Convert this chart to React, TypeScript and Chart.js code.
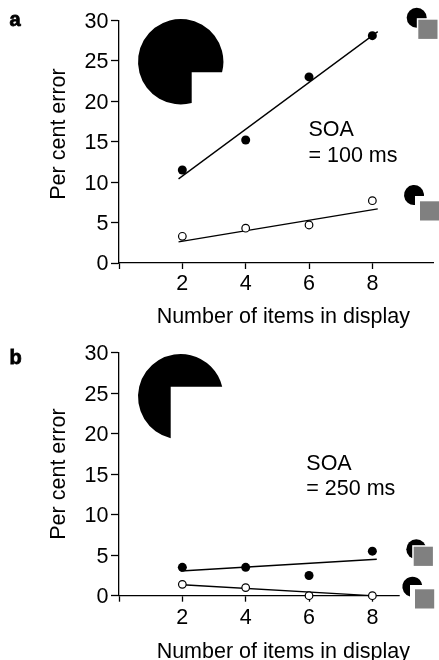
import React, { useEffect, useRef } from "react";
import { Chart, registerables } from "chart.js";

Chart.register(...registerables);

const FONT = '"Liberation Sans", Arial, sans-serif';
const FONT_SIZE = 21.5;

const itemCounts = [2, 4, 6, 8];
const yTicks = [0, 5, 10, 15, 20, 25, 30];
const xTicks = [0, 2, 4, 6, 8];

const aFilled = [11.5, 15.2, 23.0, 28.1];
const aOpen = [3.3, 4.3, 4.7, 7.7];
const aFilledFitX = [1.88, 8.17];
const aFilledFitY = [10.4, 28.6];
const aOpenFitX = [1.88, 8.17];
const aOpenFitY = [2.6, 6.7];

const bFilled = [3.5, 3.5, 2.5, 5.5];
const bOpen = [1.4, 1.0, 0, 0];
const bFilledFitX = [1.95, 8.14];
const bFilledFitY = [3.05, 4.5];
const bOpenFitX = [2, 7.96];
const bOpenFitY = [1.35, 0];

const xTitle = "Number of items in display";
const yTitle = "Per cent error";

type Glyph = { cx: number; cy: number; r: number; nx?: number; ny?: number };
type Panel = {
  label: string;
  labelY: number;
  soa: string[];
  soaX: number;
  soaY: number[];
  top: number;
  bottom: number;
  tickPad: number;
  xTitleY: number;
  yTitleCy: number;
  glyphs: Glyph[];
  squares: number[][];
  gap?: number[];
  filled: number[];
  open: number[];
  filledFit: number[][];
  openFit: number[][];
};

const panelA: Panel = {
  label: "a",
  labelY: 25.5,
  soa: ["SOA", "= 100 ms"],
  soaX: 308.5,
  soaY: [135.5, 161.5],
  top: 20.3,
  bottom: 263,
  tickPad: 2,
  xTitleY: 323,
  yTitleCy: 134,
  glyphs: [
    { cx: 180.7, cy: 61.7, r: 42.7, nx: 191.7, ny: 72.3 },
    { cx: 416.7, cy: 17.7, r: 10 },
    { cx: 414, cy: 195, r: 10, nx: 415, ny: 196 },
  ],
  squares: [
    [418.3, 19.7, 19.2],
    [420, 201.3, 19.2],
  ],
  filled: aFilled,
  open: aOpen,
  filledFit: [aFilledFitX, aFilledFitY],
  openFit: [aOpenFitX, aOpenFitY],
};

const panelB: Panel = {
  label: "b",
  labelY: 34,
  soa: ["SOA", "= 250 ms"],
  soaX: 306.3,
  soaY: [139.5, 165],
  top: 22.7,
  bottom: 265.7,
  tickPad: 3,
  xTitleY: 327.5,
  yTitleCy: 144,
  glyphs: [
    { cx: 180.7, cy: 66.7, r: 42.7, nx: 170.7, ny: 56.7 },
    { cx: 416.3, cy: 219.3, r: 10 },
    { cx: 412.3, cy: 256.7, r: 10, nx: 410, ny: 255 },
  ],
  squares: [
    [413.7, 216.7, 19.2],
    [415, 259.3, 19.2],
  ],
  gap: [399.7, 437.7],
  filled: bFilled,
  open: bOpen,
  filledFit: [bFilledFitX, bFilledFitY],
  openFit: [bOpenFitX, bOpenFitY],
};

function overlay(panel: Panel) {
  return {
    id: "overlay" + panel.label,
    beforeDraw(chart: Chart) {
      const items = (chart.scales.y as any).getLabelItems();
      items.forEach((it: any) => {
        it.options.translation = [it.options.translation[0], it.options.translation[1] + 1.5];
      });
    },
    afterDraw(chart: Chart) {
      const ctx = chart.ctx;
      ctx.save();
      ctx.fillStyle = "#000";
      ctx.textAlign = "left";
      ctx.textBaseline = "alphabetic";

      ctx.font = `bold 20px ${FONT}`;
      ctx.strokeStyle = "#000";
      ctx.lineWidth = 0.8;
      ctx.fillText(panel.label, 9.5, panel.labelY);
      ctx.strokeText(panel.label, 9.5, panel.labelY);

      ctx.font = `${FONT_SIZE}px ${FONT}`;
      panel.soa.forEach((t, i) => ctx.fillText(t, panel.soaX, panel.soaY[i]));

      ctx.textAlign = "center";
      ctx.fillText(xTitle, 283.3, panel.xTitleY);
      ctx.save();
      ctx.translate(65, panel.yTitleCy);
      ctx.rotate(-Math.PI / 2);
      ctx.fillText(yTitle, 0, 0);
      ctx.restore();

      if (panel.gap) {
        ctx.fillStyle = "#fff";
        ctx.fillRect(panel.gap[0], panel.bottom - 2, panel.gap[1] - panel.gap[0], 4);
        ctx.fillStyle = "#000";
      }

      panel.glyphs.forEach((g) => {
        ctx.beginPath();
        if (g.nx === undefined || g.ny === undefined) {
          ctx.arc(g.cx, g.cy, g.r, 0, Math.PI * 2);
        } else {
          const a1 = Math.asin((g.ny - g.cy) / g.r);
          const a2 = Math.acos((g.nx - g.cx) / g.r);
          ctx.arc(g.cx, g.cy, g.r, a2, a1 + Math.PI * 2);
          ctx.lineTo(g.nx, g.ny);
          ctx.closePath();
        }
        ctx.fill();
      });

      panel.squares.forEach(([x, y, s]) => {
        ctx.fillStyle = "#fff";
        ctx.fillRect(x - 1.5, y - 1.5, s + 3, s + 3);
        ctx.fillStyle = "#808080";
        ctx.fillRect(x, y, s, s);
      });
      ctx.restore();
    },
  };
}

function build(canvas: HTMLCanvasElement, panel: Panel) {
  const toXY = (xs: number[], ys: number[]) => xs.map((x, i) => ({ x, y: ys[i] }));
  const line = {
    showLine: true,
    borderColor: "#000",
    borderWidth: 1.3,
    pointRadius: 0,
    clip: false,
    order: 3,
  };
  return new Chart(canvas, {
    type: "scatter",
    data: {
      datasets: [
        {
          ...line,
          label: "Filled fit",
          data: toXY(panel.filledFit[0], panel.filledFit[1]),
        },
        {
          ...line,
          label: "Open fit",
          data: toXY(panel.openFit[0], panel.openFit[1]),
        },
        {
          label: "Filled",
          data: toXY(itemCounts, panel.filled),
          pointRadius: 4.5,
          backgroundColor: "#000",
          borderColor: "#000",
          borderWidth: 0,
          clip: false,
          order: 1,
        },
        {
          label: "Open",
          data: toXY(itemCounts, panel.open),
          pointRadius: 3.8,
          backgroundColor: "#fff",
          borderColor: "#000",
          borderWidth: 1.2,
          clip: false,
          order: 2,
        },
      ],
    },
    options: {
      responsive: false,
      animation: false,
      events: [],
      layout: { padding: { top: panel.top, right: 0, bottom: 0, left: 0 } },
      plugins: { legend: { display: false }, tooltip: { enabled: false } },
      scales: {
        x: {
          type: "linear",
          min: 0,
          max: 9.94,
          afterBuildTicks: (s: any) => {
            s.ticks = xTicks.map((value) => ({ value }));
          },
          afterFit: (s: any) => {
            s.height = 330 - panel.bottom;
          },
          ticks: {
            autoSkip: false,
            maxRotation: 0,
            padding: panel.tickPad,
            color: "#000",
            font: { family: FONT, size: FONT_SIZE },
            callback: (v: any) => (v === 0 ? "" : String(v)),
          },
          grid: {
            drawOnChartArea: false,
            tickLength: 6,
            tickColor: "#000",
            tickWidth: 1.3,
          },
          border: { color: "#000", width: 1.3 },
        },
        y: {
          type: "linear",
          min: 0,
          max: 30,
          afterBuildTicks: (s: any) => {
            s.ticks = yTicks.map((value) => ({ value }));
          },
          afterFit: (s: any) => {
            s.width = 119;
          },
          ticks: {
            autoSkip: false,
            padding: 2.5,
            color: "#000",
            font: { family: FONT, size: FONT_SIZE },
          },
          grid: {
            drawOnChartArea: false,
            tickLength: 8,
            tickColor: "#000",
            tickWidth: 1.3,
          },
          border: { color: "#000", width: 1.3 },
        },
      },
    },
    plugins: [overlay(panel)],
  } as any);
}

export default function App() {
  const refA = useRef<HTMLCanvasElement>(null);
  const refB = useRef<HTMLCanvasElement>(null);
  useEffect(() => {
    const a = build(refA.current!, panelA);
    const b = build(refB.current!, panelB);
    return () => {
      a.destroy();
      b.destroy();
    };
  }, []);
  const style: React.CSSProperties = { position: "absolute", left: 0, width: 439, height: 330 };
  return (
    <div style={{ position: "absolute", left: 0, top: 0, width: 439, height: 660, overflow: "hidden", background: "#fff" }}>
      <canvas ref={refA} width={439} height={330} style={{ ...style, top: 0 }} />
      <canvas ref={refB} width={439} height={330} style={{ ...style, top: 330 }} />
    </div>
  );
}
